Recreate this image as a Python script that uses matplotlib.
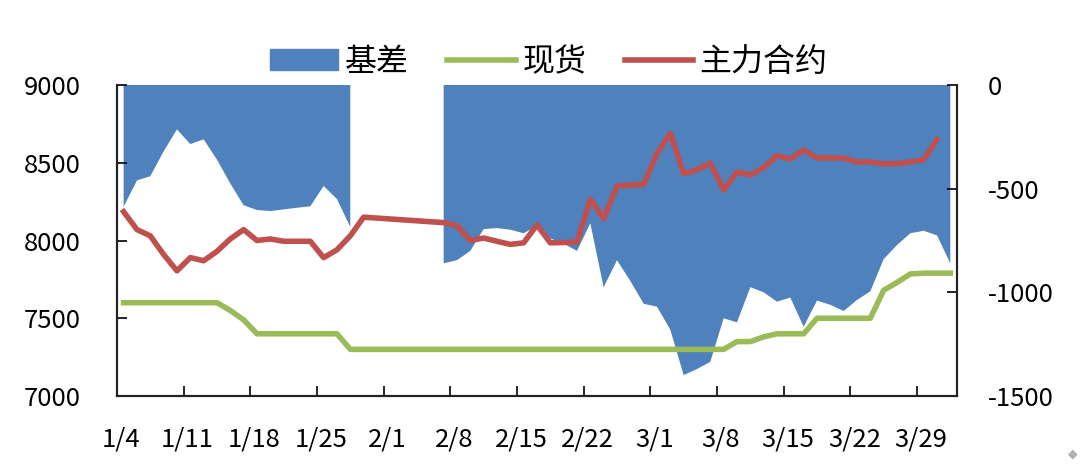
import numpy as np
import matplotlib
matplotlib.use("Agg")
import matplotlib.pyplot as plt
from matplotlib.patches import Patch
from matplotlib.lines import Line2D

plt.rcParams['font.family'] = ['Noto Sans CJK SC', 'DejaVu Sans']
plt.rcParams['axes.unicode_minus'] = False

nan = np.nan

# weekdays 1/4 .. 3/31, one value per category
basis = [-587, -460, -440, -320, -214, -285, -262, -360, -475, -580,
         -603, -608, -600, -592, -585, -487, -550, -685, nan, nan,
         nan, nan, nan, nan, -860, -845, -800, -695, -690, -698,
         -715, -680, -740, -765, -800, -667, -975, -845, -945, -1055,
         -1069, -1180, -1399, -1370, -1335, -1125, -1145, -975, -1000, -1045,
         -1025, -1166, -1040, -1060, -1090, -1037, -995, -840, -772, -715,
         -703, -725, -860]

spot = [7600, 7600, 7600, 7600, 7600, 7600, 7600, 7600, 7550, 7490,
        7400, 7400, 7400, 7400, 7400, 7400, 7400, 7300, 7300, 7300,
        7300, 7300, 7300, 7300, 7300, 7300, 7300, 7300, 7300, 7300,
        7300, 7300, 7300, 7300, 7300, 7300, 7300, 7300, 7300, 7300,
        7300, 7300, 7300, 7300, 7300, 7300, 7350, 7350, 7380, 7400,
        7400, 7400, 7500, 7500, 7500, 7500, 7500, 7680, 7730, 7785,
        7790, 7790, 7790]

futures = [8185, 8070, 8030, 7910, 7805, 7890, 7870, 7930, 8010, 8070,
           8000, 8010, 7995, 7995, 7995, 7890, 7940, 8030, 8150, nan,
           nan, nan, nan, nan, 8115, 8095, 8000, 8016, 7995, 7975,
           7985, 8100, 7985, 7987, 7990, 8265, 8140, 8350, 8357, 8360,
           8560, 8690, 8430, 8455, 8498, 8325, 8441, 8421, 8470, 8545,
           8525, 8582, 8531, 8531, 8530, 8505, 8505, 8493, 8495, 8505,
           8520, 8650, nan]

tick_labels = ["1/4", "1/11", "1/18", "1/25", "2/1", "2/8", "2/15",
               "2/22", "3/1", "3/8", "3/15", "3/22", "3/29"]

blue = "#4F81BD"
green = "#9BBB59"
red = "#C0504D"

x = np.arange(len(spot))
basis = np.array(basis, dtype=float)
futures = np.array(futures, dtype=float)

fig = plt.figure(figsize=(10.8, 4.66), dpi=100)
ax = fig.add_axes([0.1083, 0.1502, 0.7778, 0.6674])
ax2 = ax.twinx()

# basis area on the right axis, drawn behind the lines
ax2.fill_between(x, 0, basis, where=~np.isnan(basis), color=blue, lw=0)
ax2.set_ylim(-1500, 0)
ax2.set_yticks([0, -500, -1000, -1500])

ok = ~np.isnan(futures)
lw = 4.0
ax.plot(x, spot, color=green, lw=lw, solid_joinstyle='round')
ax.plot(x[ok], futures[ok], color=red, lw=lw, solid_joinstyle='round')
ax.set_ylim(7000, 9000)
ax.set_yticks([7000, 7500, 8000, 8500, 9000])
ax.set_xlim(-0.5, len(spot) - 0.5)

ax.set_zorder(ax2.get_zorder() + 1)
ax.patch.set_visible(False)

# tick marks at week boundaries, labels slightly right of them
ax.set_xticks(np.arange(5, len(spot), 5) - 0.5)
ax.set_xticklabels([])
ax.set_xticks(np.arange(0, len(spot), 5) - 0.2, minor=True)
ax.set_xticklabels(tick_labels, minor=True)
ax.tick_params(axis='x', which='minor', length=0, pad=22, labelsize=18.5)
ax.tick_params(axis='x', which='major', direction='in', length=7, width=1.2)
ax.tick_params(axis='y', direction='in', length=7, width=1.2, pad=26, labelsize=18.5)
ax2.tick_params(axis='y', direction='in', length=7, width=1.2, pad=22, labelsize=18.5)

for a in (ax, ax2):
    a.spines['top'].set_visible(False)
    for s in ('left', 'right', 'bottom'):
        a.spines[s].set_linewidth(1.5)
        a.spines[s].set_color('#222222')

handles = [Patch(color=blue), Line2D([], [], color=green, lw=lw),
           Line2D([], [], color=red, lw=lw)]
fig.legend(handles, ["基差", "现货", "主力合约"], loc='center',
           bbox_to_anchor=(0.508, 0.867), ncol=3, frameon=False, fontsize=23,
           handlelength=2.15, handleheight=0.65, handletextpad=0.2,
           columnspacing=1.2)

fig.text(0.993, 0.026, "◆", color="#b0b0b0", fontsize=9, ha='center',
         va='center', family='DejaVu Sans')

fig.savefig("out.png", dpi=100)
